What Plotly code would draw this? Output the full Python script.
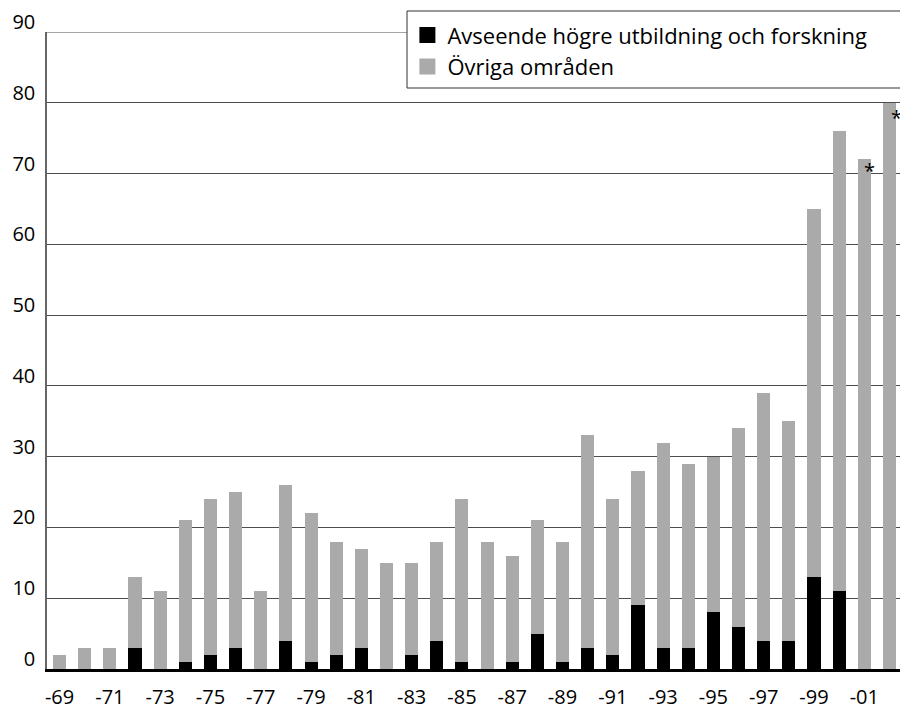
import plotly.graph_objects as go

years = list(range(1969, 2003))
totals = [2, 3, 3, 13, 11, 21, 24, 25, 11, 26, 22, 18, 17, 15, 15, 18, 24, 18, 16, 21,
          18, 33, 24, 28, 32, 29, 30, 34, 39, 35, 65, 76, 72, 80]
higher_ed = [0, 0, 0, 3, 0, 1, 2, 3, 0, 4, 1, 2, 3, 0, 2, 4, 1, 0, 1, 5,
             1, 3, 2, 9, 3, 3, 8, 6, 4, 4, 13, 11, 0, 0]
other = [t - h for t, h in zip(totals, higher_ed)]
tick_years = list(range(1969, 2002, 2))
tick_labels = ["-" + str(y)[2:] for y in tick_years]
series_names = ["Avseende högre utbildning och forskning", "Övriga områden"]
star_years = [2001, 2002]
star_values = [totals[years.index(y)] for y in star_years]

FONT = "Open Sans"
COLORS = ["#000000", "#aaaaaa"]
STAR_SHIFTS = {2001: (5, -11), 2002: (7, -15)}

fig = go.Figure()
for vals, name, col in zip([higher_ed, other], series_names, COLORS):
    fig.add_trace(go.Bar(x=years, y=vals, name=name, showlegend=False,
                         marker=dict(color=col, line=dict(width=0))))
# legend entries with larger square swatches
for name, col in zip(series_names, COLORS):
    fig.add_trace(go.Scatter(x=[None], y=[None], mode="markers", name=name,
                             marker=dict(symbol="square", size=16, color=col)))

for y, v in zip(star_years, star_values):
    dx, dy = STAR_SHIFTS[y]
    fig.add_annotation(x=y, y=v, text="*", showarrow=False, xshift=dx, yshift=dy,
                       font=dict(family=FONT, size=20, color="#000"))

# top frame line at 90
fig.add_shape(type="line", xref="paper", x0=0, x1=1, yref="y", y0=90, y1=90,
              line=dict(color="#4d4d4d", width=1.2), layer="below")
# legend box (extends past the right edge as in the reference)
fig.add_shape(type="rect", xref="paper", yref="paper",
              x0=(407 - 47) / 853, x1=1.05, y0=(669 - 88) / 637, y1=(669 - 11) / 637,
              line=dict(color="#333", width=1), fillcolor="white", layer="above")

fig.update_layout(
    width=900, height=706,
    barmode="stack", bargap=0.48,
    plot_bgcolor="white", paper_bgcolor="white",
    margin=dict(l=47, r=0, t=32, b=37, autoexpand=False),
    font=dict(family=FONT, size=20, color="#000"),
    legend=dict(x=0.4225, y=1.028, xanchor="left", yanchor="top",
                borderwidth=0, bgcolor="rgba(0,0,0,0)",
                traceorder="normal", font=dict(size=22), itemsizing="trace"),
    xaxis=dict(range=[1968.5, 2002.42], tickvals=tick_years, ticktext=tick_labels,
               showgrid=False, showline=True, linecolor="#000", linewidth=3,
               ticks="", ticklabelstandoff=8, zeroline=False, automargin=False),
    yaxis=dict(range=[0, 90], dtick=10, showgrid=True, gridcolor="#4d4d4d", gridwidth=1.2,
               showline=True, linecolor="#666", linewidth=1.5, zeroline=False,
               ticks="", ticklabelposition="outside top", ticklabelstandoff=6,
               ticklabelshift=4, automargin=False),
)

fig.write_html("out.html", config={"displayModeBar": False},
               post_script="document.body.style.margin='0';document.body.style.overflow='hidden';")
